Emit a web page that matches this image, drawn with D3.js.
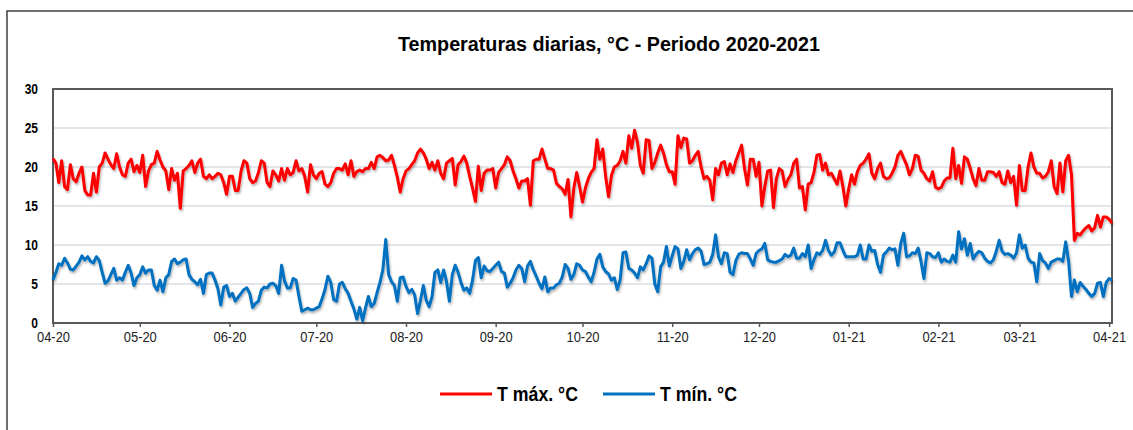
<!DOCTYPE html>
<html>
<head>
<meta charset="utf-8">
<script src="https://cdn.jsdelivr.net/npm/d3@7"></script>
<style>
  body { margin: 0; background: #fff; }
  text { font-family: "Liberation Sans", Arial, sans-serif; }
</style>
</head>
<body>
<div id="chart"></div>
<script>
// Daily series, 2020-04-01 .. 2021-04-02 (one value per day)
var startDate = "2020-04-01";
var seriesNames = ["T máx. °C", "T mín. °C"];
var seriesColors = ["#ff0000", "#0070c0"];
var monthLabels = ["04-20","05-20","06-20","07-20","08-20","09-20","10-20","11-20","12-20","01-21","02-21","03-21","04-21"];
var yTicks = [0, 5, 10, 15, 20, 25, 30];

var tmax = [
  // abr 2020
  21.1,20.5,18,20.8,17.5,17.1,20.3,18.5,18.1,19.2,20,17,16.4,16.4,19.2,16.8,20,20.5,21.8,21,20.3,19.8,21.7,20,19,18.8,20.5,21,19.4,20.2,
  // may
  19.3,21.5,17.5,19.5,20.3,20.5,22,20.9,20,19.5,17.1,19.8,18.3,19.2,14.7,19.5,19.8,20.2,20.8,19.3,20.5,21,18.8,18.5,19,18.5,18.8,19.2,19,18,16.5,
  // jun
  18.8,18.8,17,17,19.5,20.8,20.5,18.5,18,18.2,19.3,20.8,20.5,18,17.5,19.5,19,18.2,19.8,18.3,19.8,19,19.3,20.8,19.5,19.8,18.8,16.8,20.3,19,
  // jul
  18.5,19.2,19.4,17.8,17.5,18,19.2,19.8,19.8,19.6,20.4,19,20.8,18.8,19.4,19.6,19.4,19.8,19.8,20.6,19.8,21.3,21.5,21.2,20.8,20.9,21.5,20.2,18.7,16.8,18.5,
  // ago
  19.5,19.8,20.3,20.8,21.8,22.3,21.8,21,19.8,20.6,19.6,20.8,19.2,18.5,20.5,20.8,21.1,17.7,20.3,20.7,21.4,20.5,18.8,17.3,15.6,20.1,17,19.2,19.6,19.6,19.8,
  // sep
  17.3,19.3,19.8,20.3,21.3,20.8,19.5,18.5,17.3,18.2,18.2,18.5,15.1,20.8,21,21,22.3,21,19.8,19.8,19.6,17.9,17.5,17.2,16.5,18.4,13.6,17.3,19.3,17.5,
  // oct
  15.5,17.3,18.5,19.3,19.8,23.5,21,22.3,18.8,16.2,18.9,20,20.2,20.8,22,20.5,24,22.4,24.7,23.2,20.2,19.2,23.5,23.4,19.8,20.6,21.8,22.8,21.8,20.3,19.4,
  // nov
  19.4,17.8,24,22.5,23.7,23.6,20.5,20.8,21.5,22,20,18.5,18.8,18.3,15.8,19.8,19,20.5,20.7,19,20.4,19.3,20.8,21.8,22.8,19.8,17.7,21,21,18.8,
  // dic
  20.6,15,17.5,19.5,19.6,14.8,18.5,19.8,19.5,17.5,18.4,19,20.5,21,17.3,17.5,14.5,17.8,18,19.3,21.5,21.6,19.6,20.5,19,19.2,18.5,17.8,19.5,17.5,15,
  // ene 2021
  17.2,19,17.8,19.4,20.2,20.5,21,21.7,19.2,18.5,19.8,20.5,18.8,18.5,18.6,19.2,20,21.5,22,21.1,20.3,19,19.8,21.5,21.4,19.6,19.2,18.5,18.2,19.4,17.4,
  // feb
  17.2,17.4,18.2,18.6,18.6,22.4,18.5,20.2,17.9,21.3,21,19.8,18.5,17.6,19.8,18.3,18.3,19.4,19.4,19.3,18.8,19.4,18,17.8,19.5,18,18.8,15.1,
  // mar
  20.2,17,17,20,21.8,20,19.2,19.2,18.6,18.8,19.4,20.8,17.5,16.6,20.5,16.8,20.8,21.5,19,10.6,11.5,11.3,11.8,12.2,12.5,11.8,12.2,13.8,12.3,13.6,13.6,
  // abr
  13.3,12.8
];

var tmin = [
  // abr 2020
  5.5,6.5,7.6,7.4,8.3,7.7,6.9,6.8,7.3,7.8,8.6,8.1,8.5,7.9,7.7,8.5,8,6.5,5.1,5.4,6.2,7,5.5,5.8,5.5,6.5,7.4,6.4,4.8,5.8,
  // may
  6.2,7.2,6.4,6.8,6.8,4.8,4.2,5.5,4,5.8,6.2,7.9,8.2,7.6,7.8,8.1,8.2,6.2,5.6,5.3,4.9,5.6,3.8,6.2,6.4,6.4,5.5,4.4,2.3,4.6,4.8,
  // jun
  3.4,3.8,2.8,3.3,3.8,4.3,4.5,3.8,2,2.5,2.8,4.2,4.6,4.5,5,5.1,4.8,3.8,7.4,5.4,4.5,4.5,5.7,5.5,3.4,1.5,1.7,1.9,1.7,1.7,
  // jul
  1.9,2.1,3.1,4.3,6,5.2,3,2.8,5,5.2,4.4,3.8,2.8,1.8,0.5,2,0.3,1.9,3.4,2.1,2.5,3.9,5.2,6.8,10.7,6.2,5.3,4.8,2.8,5.8,5.9,
  // ago
  4.7,3.9,4.3,3.6,1.2,2.9,4.8,2.9,2.1,3.4,6.5,6.8,5.2,6.8,5.3,2.8,6.2,7.4,6.5,5.2,4.2,4.5,3.8,5.5,8,8.4,5.8,7.3,6.7,6.6,7,
  // sep
  7.4,7.8,6.6,6.4,4.6,5.1,5.8,6.8,7.4,7,5.3,7.3,7.9,6.8,6,5.1,4.4,5.9,4,4.5,4.5,4.9,5.1,5.9,7.5,7,5.6,6.2,7.6,7.4,
  // oct
  6.8,6.6,5.9,5.3,6.5,8.2,8.8,7.2,6.6,6.3,5.5,5.8,4.3,5.5,9,9.1,7,6.8,6.4,5.8,7.2,6.8,7.6,8.6,8.3,5,4,7.2,7.8,9.8,7.3,
  // nov
  8.6,9.8,9.5,7,7.9,9.4,8.1,8.9,9.4,9.6,9.2,7.5,7.6,7.8,8.8,11.3,8.5,7.6,9,8.9,6.5,6.2,8,8.8,9,8.9,8.9,8.2,7.4,8.9,
  // dic
  9.3,9.5,10.2,8.1,7.9,7.8,7.8,8,8.2,8.8,8.5,8.7,9.6,8.3,8.3,8.9,8.5,10,7,8.1,9,8.8,9.3,10.6,9.3,8.7,9.1,10.3,10.3,9.3,8.5,
  // ene 2021
  8.5,8.5,8.5,8.7,10,8.2,8.2,10,9.2,9.3,7.5,6.5,8.7,9.1,9.6,9.4,9.5,7.4,10.2,11.5,8.5,8.6,9,8.9,9.6,7.9,5.7,9,8.9,8.5,8.4,
  // feb
  9,7.8,8.2,7.9,7.8,8.7,7.8,11.7,9.5,10.8,8.7,10.2,8.2,8.8,9.2,9,8.3,7.9,7.7,8.1,9.2,10.6,9.2,8.8,8.9,8.7,8.3,9,
  // mar
  11.3,9.6,10,8.3,7.8,7.7,5.3,8.9,8,7.7,7,7.8,8,8.2,8.2,7.9,10.4,7.9,3.4,5.5,4,5.2,4.7,4.3,3.8,3.4,3.8,5.1,5.2,3.4,5.2,
  // abr
  5.7,5.5
];

(function () {
  "use strict";

  var width = 1133, height = 430,
      left = 53, right = 1112, top = 89, bottom = 323;

  var svg = d3.select("#chart").append("svg")
      .attr("width", width).attr("height", height);

  // squeeze text horizontally (the original uses a narrow face)
  function narrow(sel, k) {
    sel.each(function () {
      var w = this.getComputedTextLength();
      d3.select(this).attr("textLength", w * k).attr("lengthAdjust", "spacingAndGlyphs");
    });
  }

  var defs = svg.append("defs");
  var f = defs.append("filter").attr("id", "shadow")
      .attr("x", "-5%").attr("y", "-20%").attr("width", "110%").attr("height", "140%");
  f.append("feDropShadow").attr("dx", 1).attr("dy", 2).attr("stdDeviation", 1.2)
      .attr("flood-color", "#000").attr("flood-opacity", 0.3);

  // outer frame
  svg.append("rect").attr("x", 7).attr("y", 11).attr("width", 1140).attr("height", 440)
      .attr("fill", "none").attr("stroke", "#3f3f3f").attr("stroke-width", 1.5);

  var parse = d3.timeParse("%Y-%m-%d");
  var t0 = parse(startDate);
  var dates = tmax.map(function (d, i) { return d3.timeDay.offset(t0, i); });

  var x = d3.scaleTime()
      .domain([t0, dates[dates.length - 1]])
      .range([left, right]);
  var y = d3.scaleLinear().domain([0, 30]).range([bottom, top]);

  // grid
  svg.append("g").selectAll("line").data(yTicks.filter(function (v) { return v > 0 && v < 30; }))
    .enter().append("line")
      .attr("x1", left).attr("x2", right)
      .attr("y1", function (d) { return y(d); }).attr("y2", function (d) { return y(d); })
      .attr("stroke", "#d9dde3").attr("stroke-width", 1.5);

  // y labels
  var yl = svg.append("g").selectAll("text").data(yTicks).enter().append("text")
      .attr("x", 38).attr("y", function (d) { return y(d) + 5; })
      .attr("text-anchor", "end")
      .style("font-size", "15px").style("font-weight", "bold").attr("fill", "#000")
      .text(function (d) { return d; });
  narrow(yl, 0.8);

  // x axis
  var monthDates = monthLabels.map(function (m, i) { return d3.timeMonth.offset(t0, i); });
  var xAxis = d3.axisBottom(x).tickValues(monthDates)
      .tickFormat(function (d, i) { return monthLabels[i]; })
      .tickSize(4).tickPadding(4);
  var gx = svg.append("g").attr("transform", "translate(0," + bottom + ")").call(xAxis);
  gx.select(".domain").remove();
  gx.selectAll(".tick line").attr("stroke", "#595959").attr("stroke-width", 1.5);
  gx.selectAll(".tick text").style("font-size", "15px").attr("fill", "#222")
      .attr("font-family", "Liberation Sans, Arial, sans-serif");
  narrow(gx.selectAll(".tick text"), 0.86);

  // plot border
  svg.append("rect").attr("x", left).attr("y", top)
      .attr("width", right - left).attr("height", bottom - top)
      .attr("fill", "none").attr("stroke", "#595959").attr("stroke-width", 2);

  var line = d3.line()
      .x(function (d, i) { return x(dates[i]); })
      .y(function (d) { return y(d); });

  [tmax, tmin].forEach(function (s, k) {
    svg.append("path").datum(s)
      .attr("d", line)
      .attr("fill", "none")
      .attr("stroke", seriesColors[k])
      .attr("stroke-width", 3)
      .attr("stroke-linejoin", "round")
      .attr("filter", "url(#shadow)");
  });

  // title
  var title = svg.append("text")
      .attr("x", 609).attr("y", 51).attr("text-anchor", "middle")
      .style("font-size", "20px").style("font-weight", "bold").attr("fill", "#000")
      .text("Temperaturas diarias, °C - Periodo 2020-2021");
  title.attr("textLength", 422).attr("lengthAdjust", "spacingAndGlyphs");

  // legend
  var legX = [440, 603], legW = [81, 77];
  seriesNames.forEach(function (name, k) {
    svg.append("line")
      .attr("x1", legX[k]).attr("x2", legX[k] + 52)
      .attr("y1", 394).attr("y2", 394)
      .attr("stroke", seriesColors[k]).attr("stroke-width", 3);
    svg.append("text")
      .attr("x", legX[k] + 57).attr("y", 401)
      .style("font-size", "20px").style("font-weight", "bold").attr("fill", "#000")
      .attr("textLength", legW[k]).attr("lengthAdjust", "spacingAndGlyphs")
      .text(name);
  });
})();
</script>
</body>
</html>
